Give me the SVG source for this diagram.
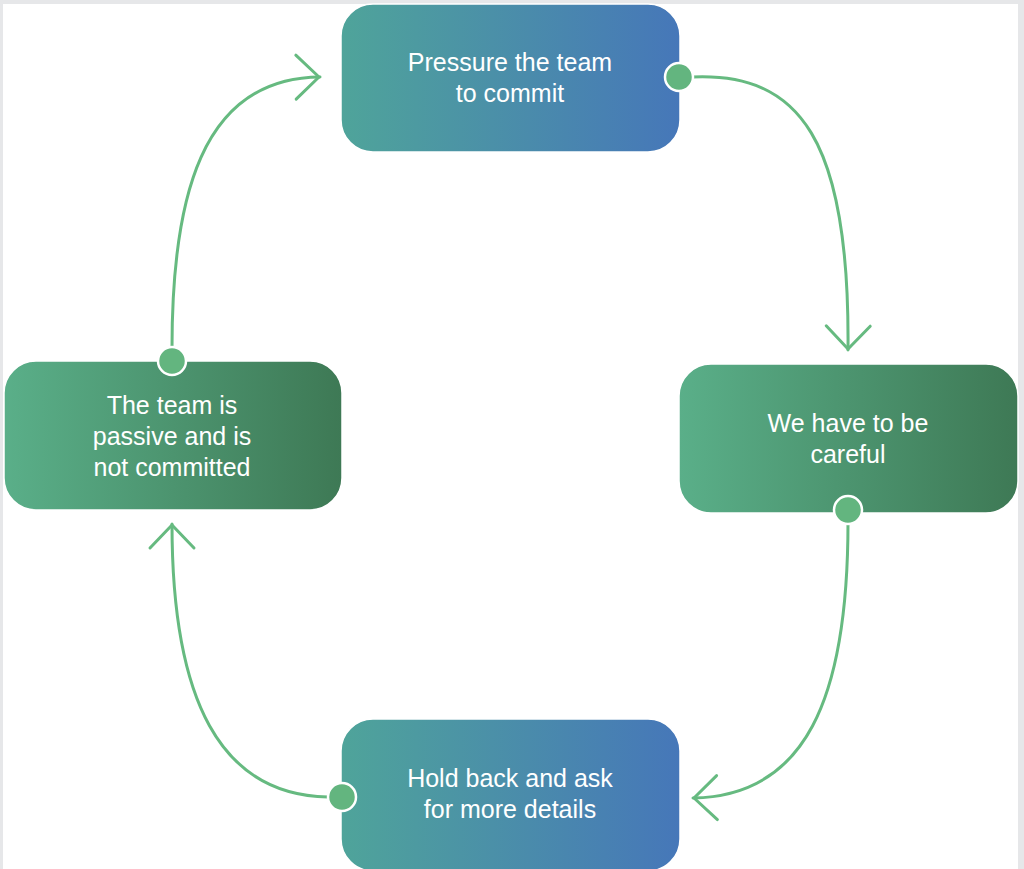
<svg xmlns="http://www.w3.org/2000/svg" width="1024" height="869" viewBox="0 0 1024 869">
  <defs>
    <linearGradient id="gBlue" x1="0" y1="0" x2="1" y2="0">
      <stop offset="0" stop-color="#4fa49a"/>
      <stop offset="1" stop-color="#4677b9"/>
    </linearGradient>
    <linearGradient id="gGreen" x1="0" y1="0" x2="1" y2="0">
      <stop offset="0" stop-color="#5aaf89"/>
      <stop offset="1" stop-color="#3e7955"/>
    </linearGradient>
    <marker id="chev" viewBox="0 0 30 50" refX="28" refY="25" markerWidth="30" markerHeight="50" markerUnits="userSpaceOnUse" orient="auto">
      <path d="M 4 3 L 27 25 L 4 47" fill="none" stroke="#66ba80" stroke-width="3" stroke-linecap="round" stroke-linejoin="round"/>
    </marker>
  </defs>
  <style>
    .box { stroke: #ffffff; stroke-width: 1.5; }
    .lbl { font-family: "Liberation Sans", Arial, sans-serif; font-size: 25px; fill: #ffffff; text-anchor: middle; }
    .dot { fill: #63b57f; stroke: #ffffff; stroke-width: 2.5; }
    .conn { fill: none; stroke: #66ba80; stroke-width: 3; stroke-linecap: round; }
  </style>
  <rect x="0" y="0" width="1024" height="869" fill="#e6e7e9"/>
  <rect x="3" y="4" width="1015" height="865" fill="#ffffff"/>

  <g id="connectors">
    <path class="conn" d="M 692 77 C 800 72, 850 140, 848 350" marker-end="url(#chev)"/>
    <path class="conn" d="M 848 522 C 848 700, 805 796, 693 798" marker-end="url(#chev)"/>
    <path class="conn" d="M 328 797 C 220 795, 172 700, 172 524" marker-end="url(#chev)"/>
    <path class="conn" d="M 172 348 C 172 200, 200 78, 320 77" marker-end="url(#chev)"/>
  </g>

  <g id="node-pressure">
    <rect class="box" x="341" y="4" width="339" height="148" rx="32" fill="url(#gBlue)"/>
    <text class="lbl" x="510" y="71">Pressure the team</text>
    <text class="lbl" x="510" y="102">to commit</text>
    <circle class="dot" cx="679" cy="77" r="14"/>
  </g>

  <g id="node-careful">
    <rect class="box" x="679" y="364" width="339" height="149" rx="32" fill="url(#gGreen)"/>
    <text class="lbl" x="848" y="432">We have to be</text>
    <text class="lbl" x="848" y="463">careful</text>
    <circle class="dot" cx="848" cy="510" r="14"/>
  </g>

  <g id="node-holdback">
    <rect class="box" x="341" y="719" width="339" height="152" rx="32" fill="url(#gBlue)"/>
    <text class="lbl" x="510" y="787">Hold back and ask</text>
    <text class="lbl" x="510" y="818">for more details</text>
    <circle class="dot" cx="342" cy="797" r="14"/>
  </g>

  <g id="node-passive">
    <rect class="box" x="4" y="361" width="338" height="149" rx="32" fill="url(#gGreen)"/>
    <text class="lbl" x="172" y="414">The team is</text>
    <text class="lbl" x="172" y="445">passive and is</text>
    <text class="lbl" x="172" y="476">not committed</text>
    <circle class="dot" cx="172" cy="361" r="14"/>
  </g>
</svg>
